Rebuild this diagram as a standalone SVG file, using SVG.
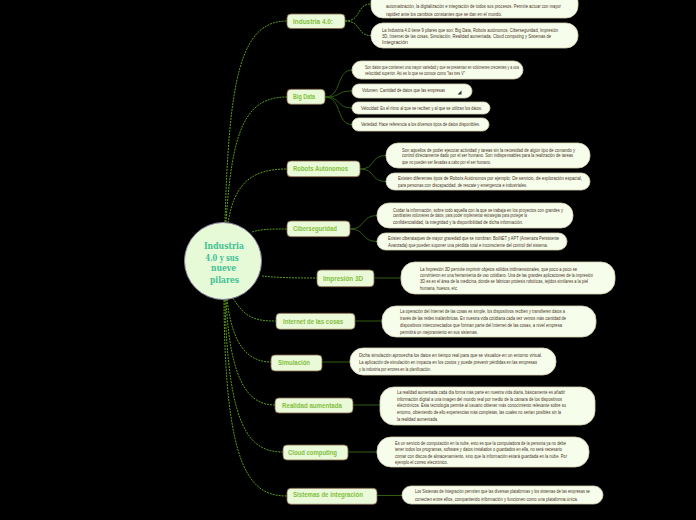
<svg xmlns="http://www.w3.org/2000/svg" width="696" height="520" viewBox="0 0 696 520">
<style>
.main rect{fill:#eafad9;stroke:#86664c;stroke-width:0.8}
.main text{font-family:"Liberation Sans",Arial,sans-serif;font-weight:bold;font-size:6.3px;fill:#83bf3e}
.note rect{fill:#f6fdea;stroke:#d8d0b4;stroke-width:0.8}
.note text{font-family:"Liberation Sans",Arial,sans-serif;font-size:4.7px;fill:#4a3328}
.cen{fill:none;stroke:#5b9c1e;stroke-width:1;stroke-dasharray:2 1}
.sub{fill:none;stroke:#2f5c12;stroke-width:1}
.ctext{font-family:"DejaVu Serif",serif;font-weight:bold;font-size:9.5px;fill:#42c095;text-anchor:middle}
</style>
<rect x="0" y="0" width="696" height="520" fill="#000"/>
<g id="connectors">
<path class="cen" d="M225,222 C229,80 240,21 287,21"/>
<path class="cen" d="M226,222 C232,130 245,97 287,97"/>
<path class="cen" d="M228,223 C234,185 250,169 287,169"/>
<path class="cen" d="M252,232 C262,229 270,229 287,229"/>
<path class="cen" d="M262,276 C280,278 300,278 317,278"/>
<path class="cen" d="M233,298 C245,318 255,321 276,321"/>
<path class="cen" d="M227,299 C232,345 248,362 271,362"/>
<path class="cen" d="M226,299 C230,385 250,405 275,405"/>
<path class="cen" d="M225,300 C228,430 250,452 283,452"/>
<path class="cen" d="M224,300 C225,470 250,496 287,496"/>
<path class="cen" d="M345,21 C362,21 356,4 371,4"/>
<path class="cen" d="M345,21 C362,21 356,35.5 371,35.5"/>
<path class="sub" d="M325,97 C342,97 336,70 352,70"/>
<path class="sub" d="M325,97 C342,97 336,91 352,91"/>
<path class="sub" d="M325,97 C342,97 336,108 352,108"/>
<path class="sub" d="M325,97 C342,97 336,124.5 352,124.5"/>
<path class="sub" d="M360,169 C376,169 370,155.5 386,155.5"/>
<path class="sub" d="M360,169 C376,169 370,181.5 386,181.5"/>
<path class="sub" d="M350,229 C366,229 361,215.5 377,215.5"/>
<path class="sub" d="M350,229 C366,229 361,241.5 377,241.5"/>
<path class="sub" d="M374,278 L401,278"/>
<path class="sub" d="M355,321 L382,321"/>
<path class="sub" d="M322,362 L350,362"/>
<path class="sub" d="M353,405 L380,405"/>
<path class="sub" d="M348,452 L377,452"/>
<path class="sub" d="M377,495.5 L402,495.5"/>
</g>
<g id="center">
<circle cx="223" cy="261" r="38.5" fill="#e6fad8" stroke="#8b7fa0" stroke-width="1"/>
<text class="ctext" x="224" y="248.5" textLength="40" lengthAdjust="spacingAndGlyphs">Industria</text>
<text class="ctext" x="222" y="260.5" textLength="33" lengthAdjust="spacingAndGlyphs">4.0 y sus</text>
<text class="ctext" x="223.5" y="271" textLength="25" lengthAdjust="spacingAndGlyphs">nueve</text>
<text class="ctext" x="224.5" y="283" textLength="29" lengthAdjust="spacingAndGlyphs">pilares</text>
</g>
<g id="industria" class="main"><rect x="287" y="14" width="58" height="14.5" rx="4"/><text x="293" y="23.9" textLength="40" lengthAdjust="spacingAndGlyphs">Industria 4.0:</text></g>
<g id="industria-n1" class="note"><rect x="371" y="-10" width="207" height="28" rx="12"/>
<text x="386" y="8.3" textLength="175" lengthAdjust="spacingAndGlyphs">automatización, la digitalización e integración de todos sus procesos. Permite actuar con mayor</text>
<text x="386" y="15.6" textLength="116" lengthAdjust="spacingAndGlyphs">rapidez ante los cambios constantes que se dan en el mundo.</text></g>
<g id="industria-n2" class="note"><rect x="371" y="23" width="207" height="25" rx="12"/>
<text x="382" y="31.6" textLength="176" lengthAdjust="spacingAndGlyphs">La Industria 4.0 tiene 9 pilares que son: Big Data, Robots autónomos, Ciberseguridad, Impresión</text>
<text x="382" y="38.3" textLength="169" lengthAdjust="spacingAndGlyphs">3D, Internet de las cosas, Simulación, Realidad aumentada, Cloud computing y Sistemas de</text>
<text x="382" y="44.4" textLength="26" lengthAdjust="spacingAndGlyphs">Integración</text></g>
<g id="bigdata" class="main"><rect x="287" y="89.3" width="38" height="15" rx="4"/><text x="293" y="98.9" textLength="22" lengthAdjust="spacingAndGlyphs">Big Data</text></g>
<g id="bigdata-n1" class="note"><rect x="352" y="61" width="171" height="18" rx="9"/>
<text x="365" y="69" textLength="154" lengthAdjust="spacingAndGlyphs">Son datos que contienen una mayor variedad y que se presentan en volúmenes crecientes y a una</text>
<text x="365" y="75" textLength="100" lengthAdjust="spacingAndGlyphs">velocidad superior. Así es lo que se conoce como "las tres V"</text></g>
<g id="bigdata-n2" class="note"><rect x="352" y="84" width="120" height="14" rx="7"/>
<text x="362" y="91.8" textLength="83" lengthAdjust="spacingAndGlyphs">Volumen: Cantidad de datos que las empresas</text>
<polygon points="457.5,94.5 461.5,94.5 461.5,90.5" fill="#333"/></g>
<g id="bigdata-n3" class="note"><rect x="352" y="102" width="138" height="12" rx="6"/>
<text x="361" y="109.8" textLength="121" lengthAdjust="spacingAndGlyphs">Velocidad: Es el ritmo al que se reciben y al que se utilizan los datos.</text></g>
<g id="bigdata-n4" class="note"><rect x="352" y="118" width="137" height="13" rx="6.5"/>
<text x="361" y="126.3" textLength="119" lengthAdjust="spacingAndGlyphs">Variedad: Hace referencia a los diversos tipos de datos disponibles.</text></g>
<g id="robots" class="main"><rect x="287" y="161" width="73" height="15.7" rx="4"/><text x="293" y="170.7" textLength="55" lengthAdjust="spacingAndGlyphs">Robots Autónomos</text></g>
<g id="robots-n1" class="note"><rect x="386" y="143" width="204" height="25" rx="12"/>
<text x="402" y="151.6" textLength="173" lengthAdjust="spacingAndGlyphs">Son aquellos de poder ejecutar actividad y tareas sin la necesidad de algún tipo de comando y</text>
<text x="402" y="157.4" textLength="171" lengthAdjust="spacingAndGlyphs">control directamente dado por el ser humano. Son indispensables para la realización de tareas</text>
<text x="402" y="164" textLength="89" lengthAdjust="spacingAndGlyphs">que no pueden ser llevadas a cabo por el ser humano.</text></g>
<g id="robots-n2" class="note"><rect x="386" y="173" width="204" height="17" rx="8.5"/>
<text x="398" y="180" textLength="184" lengthAdjust="spacingAndGlyphs">Existen diferentes tipos de Robots Autónomos por ejemplo: De servicio, de exploración espacial,</text>
<text x="398" y="186.6" textLength="129" lengthAdjust="spacingAndGlyphs">para personas con discapacidad, de rescate y emergencia e industriales.</text></g>
<g id="ciber" class="main"><rect x="287" y="221" width="63" height="15.7" rx="4"/><text x="293" y="230.6" textLength="44" lengthAdjust="spacingAndGlyphs">Ciberseguridad</text></g>
<g id="ciber-n1" class="note"><rect x="377" y="203" width="196" height="25" rx="12"/>
<text x="393" y="211.6" textLength="170" lengthAdjust="spacingAndGlyphs">Cuidar la información, sobre todo aquella con la que se trabaja en los proyectos con grandes y</text>
<text x="393" y="217.4" textLength="134" lengthAdjust="spacingAndGlyphs">cambiantes volúmenes de datos, para poder implementar estrategias para proteger la</text>
<text x="393" y="224" textLength="130" lengthAdjust="spacingAndGlyphs">confidencialidad, la integridad y la disponibilidad de dicha información.</text></g>
<g id="ciber-n2" class="note"><rect x="377" y="233" width="190" height="17" rx="8.5"/>
<text x="388" y="240" textLength="171" lengthAdjust="spacingAndGlyphs">Existen ciberataques de mayor gravedad que se nombran: BotNET y APT (Amenaza Persistente</text>
<text x="388" y="246.6" textLength="160" lengthAdjust="spacingAndGlyphs">Avanzada) que pueden suponer una pérdida total e inconsciente del control del sistema.</text></g>
<g id="impresion" class="main"><rect x="317" y="270" width="57" height="16.7" rx="4"/><text x="323" y="280.5" textLength="40" lengthAdjust="spacingAndGlyphs">Impresión 3D</text></g>
<g id="impresion-n" class="note"><rect x="401" y="262" width="214" height="32" rx="14"/>
<text x="420" y="270.6" textLength="157" lengthAdjust="spacingAndGlyphs">La Impresión 3D permite imprimir objetos sólidos tridimensionales, que poco a poco se</text>
<text x="420" y="276.8" textLength="173" lengthAdjust="spacingAndGlyphs">convirtieron en una herramienta de uso cotidiano. Una de las grandes aplicaciones de la impresión</text>
<text x="420" y="283.3" textLength="168" lengthAdjust="spacingAndGlyphs">3D es en el área de la medicina, donde se fabrican prótesis robóticas, tejidos similares a la piel</text>
<text x="420" y="290" textLength="38" lengthAdjust="spacingAndGlyphs">humana, huesos, etc.</text></g>
<g id="internet" class="main"><rect x="276" y="313.3" width="79" height="16" rx="4"/><text x="283" y="323.9" textLength="60" lengthAdjust="spacingAndGlyphs">Internet de las cosas</text></g>
<g id="internet-n" class="note"><rect x="382" y="306" width="214" height="31" rx="14"/>
<text x="400" y="313.3" textLength="165" lengthAdjust="spacingAndGlyphs">La operación del Internet de las cosas es simple, los dispositivos reciben y transfieren datos a</text>
<text x="400" y="320" textLength="166" lengthAdjust="spacingAndGlyphs">través de las redes inalámbricas. En nuestra vida cotidiana cada vez vemos más cantidad de</text>
<text x="400" y="327.3" textLength="162" lengthAdjust="spacingAndGlyphs">dispositivos interconectados que forman parte del Internet de las cosas, a nivel empresa</text>
<text x="400" y="334.3" textLength="78" lengthAdjust="spacingAndGlyphs">permitirá un mejoramiento en sus sistemas.</text></g>
<g id="simulacion" class="main"><rect x="271" y="355" width="51" height="16" rx="4"/><text x="278" y="364.5" textLength="32" lengthAdjust="spacingAndGlyphs">Simulación</text></g>
<g id="simulacion-n" class="note"><rect x="350" y="348" width="206" height="27" rx="13"/>
<text x="359" y="357.3" textLength="183" lengthAdjust="spacingAndGlyphs">Dicha simulación aprovecha los datos en tiempo real para que se visualice en un entorno virtual.</text>
<text x="359" y="364" textLength="178" lengthAdjust="spacingAndGlyphs">La aplicación de simulación en impacta en los costos y puede prevenir pérdidas en las empresas</text>
<text x="359" y="370.6" textLength="72" lengthAdjust="spacingAndGlyphs">y la industria por errores en la planificación.</text></g>
<g id="realidad" class="main"><rect x="275" y="398" width="78" height="15" rx="4"/><text x="282" y="407.8" textLength="60" lengthAdjust="spacingAndGlyphs">Realidad aumentada</text></g>
<g id="realidad-n" class="note"><rect x="380" y="387" width="215" height="38" rx="14"/>
<text x="397" y="394.3" textLength="168" lengthAdjust="spacingAndGlyphs">La realidad aumentada cada día forma más parte en nuestra vida diaria, básicamente es añadir</text>
<text x="397" y="400.6" textLength="165" lengthAdjust="spacingAndGlyphs">información digital a una imagen del mundo real por medio de la cámara de los dispositivos</text>
<text x="397" y="407.3" textLength="169" lengthAdjust="spacingAndGlyphs">electrónicos. Esta tecnología permite al usuario obtener más conocimiento relevante sobre su</text>
<text x="397" y="414" textLength="164" lengthAdjust="spacingAndGlyphs">entorno, obteniendo de ello experiencias más completas, las cuales no serían posibles sin la</text>
<text x="397" y="420.6" textLength="41" lengthAdjust="spacingAndGlyphs">la realidad aumentada.</text></g>
<g id="cloud" class="main"><rect x="283" y="445" width="65" height="15" rx="4"/><text x="288" y="454.5" textLength="49" lengthAdjust="spacingAndGlyphs">Cloud computing</text></g>
<g id="cloud-n" class="note"><rect x="377" y="437" width="212" height="30" rx="14"/>
<text x="395" y="445" textLength="171" lengthAdjust="spacingAndGlyphs">Es un servicio de computación en la nube, esto es que la computadora de la persona ya no debe</text>
<text x="395" y="451" textLength="167" lengthAdjust="spacingAndGlyphs">tener todos los programas, software y datos instalados o guardados en ella, no será necesario</text>
<text x="395" y="457.6" textLength="172" lengthAdjust="spacingAndGlyphs">contar con discos de almacenamiento, sino que la información estará guardada en la nube. Por</text>
<text x="395" y="464.3" textLength="53" lengthAdjust="spacingAndGlyphs">ejemplo el correo electrónico.</text></g>
<g id="sistemas" class="main"><rect x="287" y="488.3" width="90" height="16" rx="4"/><text x="293" y="496.7" textLength="70" lengthAdjust="spacingAndGlyphs">Sistemas de integración</text></g>
<g id="sistemas-n" class="note"><rect x="402" y="486" width="201" height="18" rx="9"/>
<text x="415" y="493.3" textLength="175" lengthAdjust="spacingAndGlyphs">Los Sistemas de Integración permiten que las diversas plataformas y los sistemas de las empresas se</text>
<text x="415" y="500.6" textLength="163" lengthAdjust="spacingAndGlyphs">conecten entre ellos, compartiendo información y funcionen como una plataforma única.</text></g>
</svg>
